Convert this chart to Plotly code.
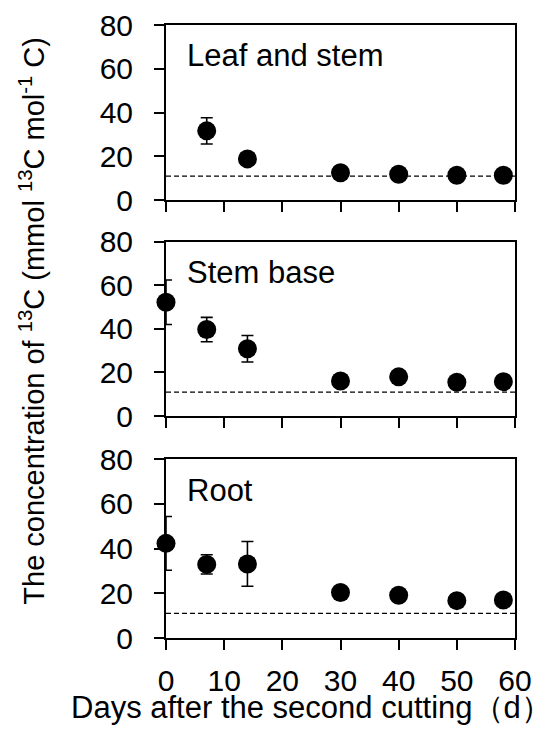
import plotly.graph_objects as go

# ---- data ----
panel_names = ["Leaf and stem", "Stem base", "Root"]

leaf_days = [7, 14, 30, 40, 50, 58]
leaf_mean = [31.7, 18.9, 12.6, 11.9, 11.4, 11.4]
leaf_err = [6.0, 1.5, 1.2, 1.0, 1.0, 1.0]

stembase_days = [0, 7, 14, 30, 40, 50, 58]
stembase_mean = [52.2, 39.7, 30.9, 16.1, 18.0, 15.5, 15.8]
stembase_err = [10.2, 5.6, 6.1, 1.5, 1.5, 1.2, 1.2]

root_days = [0, 7, 14, 30, 40, 50, 58]
root_mean = [42.3, 32.9, 33.1, 20.3, 19.1, 16.7, 17.0]
root_err = [12.0, 4.3, 10.0, 1.5, 1.5, 1.2, 1.2]

natural_x = [0, 60]
natural_y = [11.0, 11.0]

x_ticks = [0, 10, 20, 30, 40, 50, 60]
y_ticks = [0, 20, 40, 60, 80]

FONT = "Liberation Sans, Arial, sans-serif"

series = [
    (leaf_days, leaf_mean, leaf_err),
    (stembase_days, stembase_mean, stembase_err),
    (root_days, root_mean, root_err),
]

domains = [[0.714, 1.0], [0.362, 0.6465], [0.0, 0.292]]

fig = go.Figure()

for i, (xs, ys, es) in enumerate(series):
    n = "" if i == 0 else str(i + 1)
    fig.add_trace(go.Scatter(
        x=natural_x, y=natural_y, mode="lines",
        line=dict(color="black", width=1.2, dash="5px,3px"),
        xaxis="x" + n, yaxis="y" + n, showlegend=False, hoverinfo="skip",
    ))
    fig.add_trace(go.Scatter(
        x=xs, y=ys, mode="markers",
        marker=dict(color="black", size=19),
        error_y=dict(type="data", array=es, visible=True,
                     color="black", thickness=1.6, width=6),
        xaxis="x" + n, yaxis="y" + n, showlegend=False,
        cliponaxis=False,
    ))

    axis_common = dict(
        showline=True, linecolor="black", linewidth=2, mirror=True,
        ticks="outside", ticklen=10, tickwidth=2, tickcolor="black",
        showgrid=False, zeroline=False, automargin=False,
        tickfont=dict(family=FONT, size=30, color="black"),
    )
    xa = dict(axis_common, range=[0, 60], tickvals=x_ticks,
              anchor="y" + n, domain=[0, 1],
              showticklabels=(i == 2), ticklabelstandoff=5)
    ya = dict(axis_common, range=[0, 80], tickvals=y_ticks,
              anchor="x" + n, domain=domains[i], ticklabelstandoff=15)
    fig.update_layout(**{"xaxis" + n: xa, "yaxis" + n: ya})

    fig.add_annotation(
        x=3.2, y=66, xref="x" + n, yref="y" + n,
        text=panel_names[i], showarrow=False,
        xanchor="left", yanchor="middle",
        font=dict(family=FONT, size=31, color="black"),
    )

fig.add_annotation(
    x=-0.385, y=0.517, xref="paper", yref="paper",
    text="The concentration of <sup>13</sup>C (mmol <sup>13</sup>C mol<sup>-1</sup> C)",
    textangle=-90, showarrow=False, xanchor="center", yanchor="middle",
    font=dict(family=FONT, size=29, color="black"),
)
fig.add_annotation(
    x=0.418, y=-0.113, xref="paper", yref="paper",
    text="Days after the second cutting（d）",
    showarrow=False, xanchor="center", yanchor="middle",
    font=dict(family=FONT, size=31, color="black"),
)

# the page body adds an 8px margin, so the figure is 8px smaller and shifted
fig.update_layout(
    width=545, height=727,
    margin=dict(l=158, r=38, t=17, b=97),
    paper_bgcolor="white", plot_bgcolor="white",
    font=dict(family=FONT, color="black"),
)

fig.write_html("out.html")
